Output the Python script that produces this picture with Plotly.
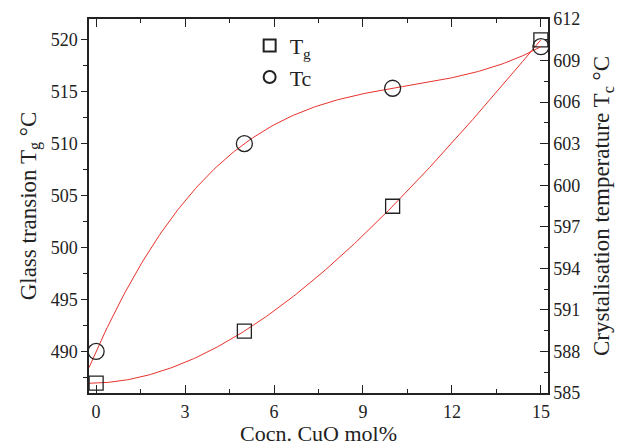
import numpy as np
import plotly.graph_objects as go

conc = [0, 5, 10, 15]
tg = [487, 492, 504, 520]
tc = [588, 603, 607, 610]

x_tick_vals = [0, 3, 6, 9, 12, 15]
y_tick_vals = [490, 495, 500, 505, 510, 515, 520]
y2_tick_vals = [585, 588, 591, 594, 597, 600, 603, 606, 609, 612]

FONT = "Liberation Serif"

xs = np.linspace(-0.24, 15, 200)
tg_fit = np.polyval(np.polyfit(conc, tg, 3), xs)
tc_fit = np.polyval(np.polyfit(conc, tc, 3), xs)

fig = go.Figure()
fig.add_trace(go.Scatter(x=xs, y=tg_fit, mode="lines", line=dict(color="#e8322b", width=1),
                         showlegend=False, hoverinfo="skip"))
fig.add_trace(go.Scatter(x=xs, y=tc_fit, mode="lines", line=dict(color="#e8322b", width=1),
                         showlegend=False, hoverinfo="skip", yaxis="y2"))
fig.add_trace(go.Scatter(x=conc, y=tg, mode="markers", name="T<sub>g</sub>",
                         marker=dict(symbol="square-open", size=14, color="#222",
                                     line=dict(width=1.3))))
fig.add_trace(go.Scatter(x=conc, y=tc, mode="markers", name="Tc", yaxis="y2",
                         marker=dict(symbol="circle-open", size=16, color="#222",
                                     line=dict(width=1.3))))

fig.update_layout(
    width=622, height=446,
    margin=dict(l=89, r=74, t=19, b=53),
    paper_bgcolor="white", plot_bgcolor="white",
    font=dict(family=FONT, size=18, color="#222"),
    showlegend=True,
    legend=dict(x=0.35, y=0.985, xanchor="left", yanchor="top",
                bgcolor="rgba(0,0,0,0)", font=dict(family=FONT, size=22),
                tracegroupgap=0, itemsizing="constant"),
    xaxis=dict(range=[-0.24, 15.24], tickvals=x_tick_vals, ticks="inside", ticklen=8,
               tickcolor="#222", showline=True, linecolor="#222", linewidth=1.5,
               mirror="ticks", showgrid=False, zeroline=False, ticklabelstandoff=2,
               automargin=False,
               minor=dict(ticks="inside", dtick=1.5, ticklen=4, tickcolor="#222", showgrid=False),
               title=dict(text="Cocn. CuO mol%", font=dict(size=22), standoff=8)),
    yaxis=dict(range=[486.05, 522.0], tickvals=y_tick_vals, ticks="outside", ticklen=6,
               tickcolor="#222", showline=True, linecolor="#222", linewidth=1.5,
               showgrid=False, zeroline=False, automargin=False,
               minor=dict(ticks="outside", dtick=2.5, ticklen=4, tickcolor="#222", showgrid=False),
               title=dict(text="Glass transion T<sub>g</sub> °C", font=dict(size=23), standoff=8)),
    yaxis2=dict(range=[585, 612], tickvals=y2_tick_vals, ticks="inside", ticklen=8,
                tickcolor="#222", showline=True, linecolor="#222", linewidth=1.5,
                overlaying="y", side="right", showgrid=False, zeroline=False, automargin=False,
                minor=dict(ticks="inside", dtick=1.5, ticklen=4, tickcolor="#222", showgrid=False),
                title=dict(text="Crystalisation temperature T<sub>c</sub> °C", font=dict(size=23), standoff=14)),
)

fig.write_html("out.html")
